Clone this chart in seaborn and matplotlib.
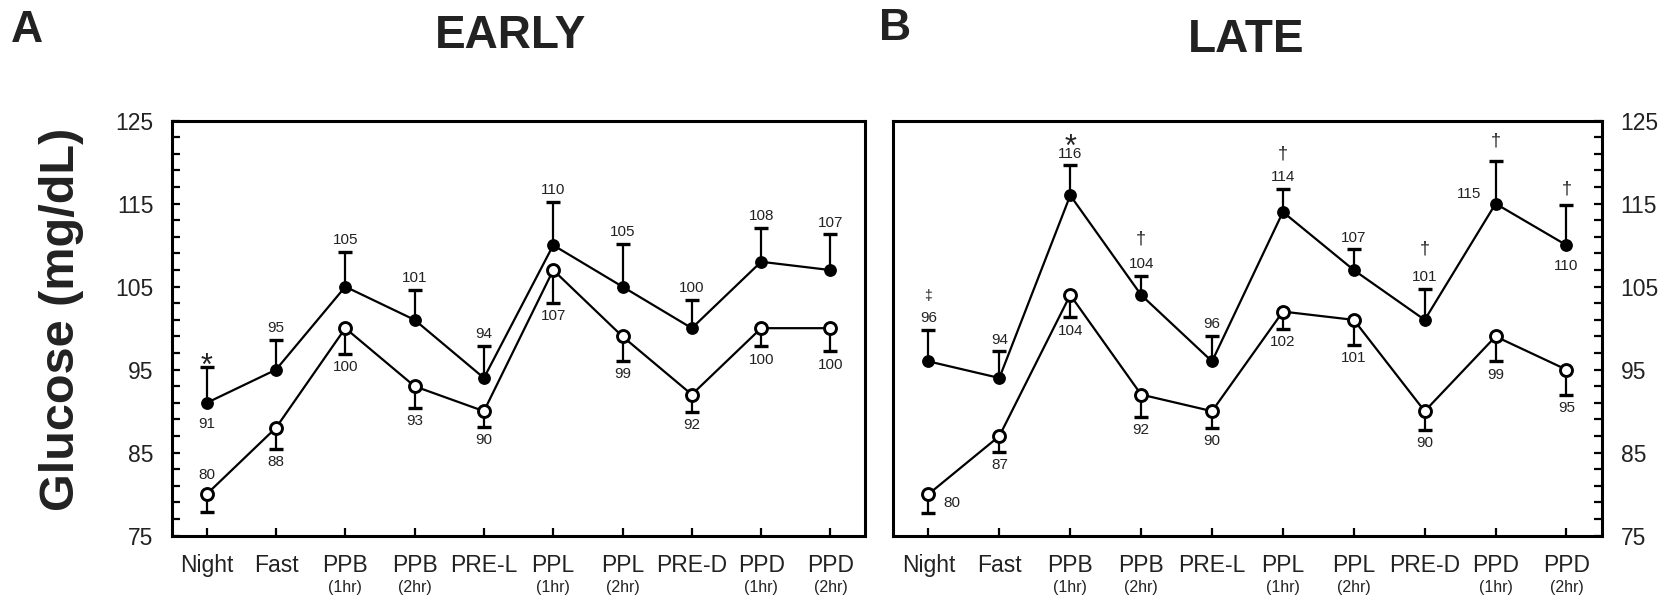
import numpy as np
import pandas as pd
import matplotlib
matplotlib.use("Agg")
import matplotlib.pyplot as plt
import seaborn as sns
from matplotlib.ticker import FixedLocator

# ---------------- data ----------------
categories = ["Night", "Fast", "PPB", "PPB", "PRE-L", "PPL", "PPL", "PRE-D", "PPD", "PPD"]
sublabels = ["", "", "(1hr)", "(2hr)", "", "(1hr)", "(2hr)", "", "(1hr)", "(2hr)"]

early_filled = [91, 95, 105, 101, 94, 110, 105, 100, 108, 107]
early_filled_se = [4.3, 3.6, 4.2, 3.6, 3.9, 5.2, 5.2, 3.4, 4.1, 4.3]
early_open = [80, 88, 100, 93, 90, 107, 99, 92, 100, 100]
early_open_se = [2.2, 2.5, 3.1, 2.6, 1.9, 4.0, 2.9, 2.1, 2.2, 2.8]

late_filled = [96, 94, 116, 104, 96, 114, 107, 101, 115, 110]
late_filled_se = [3.8, 3.2, 3.6, 2.3, 3.1, 2.8, 2.5, 3.7, 5.2, 4.9]
late_open = [80, 87, 104, 92, 90, 102, 101, 90, 99, 95]
late_open_se = [2.3, 1.9, 2.7, 2.7, 2.0, 2.1, 3.0, 2.3, 3.0, 3.0]

early_marks = ["*", "", "", "", "", "", "", "", "", ""]
late_marks = ["\u2021", "", "*", "\u2020", "", "\u2020", "", "\u2020", "\u2020", "\u2020"]

y_major = [75, 85, 95, 105, 115, 125]

# ---------------- layout / style (not data) ----------------
early_filled_pos = ["below"] + ["cap"] * 9
early_open_pos = ["above"] + ["cap"] * 9
late_filled_pos = ["cap"] * 8 + ["left", "below"]
late_open_pos = ["right"] + ["cap"] * 9
early_mark_off = [-5.5, 0, 0, 0, 0, 0, 0, 0, 0, 0]
late_mark_off = [24.5, 0, 7.0, 26.5, 0, 25, 0, 29, 14, 11.5]
mark_size = {"*": 22, "\u2020": 13, "\u2021": 10}
mark_va = {"*": "baseline", "\u2020": "center", "\u2021": "center"}

sns.set_style("ticks")
plt.rcParams["font.family"] = ["Liberation Sans", "DejaVu Sans"]
plt.rcParams["axes.linewidth"] = 2.2
plt.rcParams["axes.edgecolor"] = "black"

fig = plt.figure(figsize=(16.72, 6.01), dpi=100)
axL = fig.add_axes([0.1029, 0.1087, 0.4145, 0.6905])
axR = fig.add_axes([0.5341, 0.1087, 0.4240, 0.6905])


def put_label(ax, x, y, se, val, pos, kind):
    if pos == "cap":
        if kind == "filled":
            xy, off = (x, y + se), (0, 8.5)
        else:
            xy, off = (x, y - se), (0, -9.5)
    elif pos == "below":
        xy, off = (x, y), (0, -15)
    elif pos == "above":
        xy, off = (x, y), (0, 13.7)
    elif pos == "left":
        xy, off = (x, y), (-19, 7)
    else:  # right
        xy, off = (x, y), (16.5, -6.5)
    ax.annotate(str(val), xy=xy, xytext=off, textcoords="offset points",
                ha="center", va="center", fontsize=11, color="#222222")


def draw_panel(ax, filled, filled_se, open_, open_se, fpos, opos, marks, mark_off, right):
    n = len(categories)
    x = np.arange(n)
    filled = np.asarray(filled, float)
    open_ = np.asarray(open_, float)
    fse = np.asarray(filled_se, float)
    ose = np.asarray(open_se, float)

    # error bars (one sided)
    ax.vlines(x, filled, filled + fse, color="black", lw=1.6, zorder=1.5)
    ax.plot(x, filled + fse, linestyle="none", marker="_", markersize=9.5,
            markeredgewidth=2.4, color="black", zorder=1.6)
    ax.vlines(x, open_ - ose, open_, color="black", lw=1.6, zorder=1.5)
    ax.plot(x, open_ - ose, linestyle="none", marker="_", markersize=9.5,
            markeredgewidth=2.4, color="black", zorder=1.6)

    df = pd.DataFrame({"t": np.concatenate([x, x]),
                       "glucose": np.concatenate([filled, open_]),
                       "grp": ["filled"] * n + ["open"] * n})
    sns.lineplot(data=df[df.grp == "filled"], x="t", y="glucose", ax=ax, color="black",
                 lw=1.6, marker="o", markersize=8.2, markerfacecolor="black",
                 markeredgecolor="black", markeredgewidth=1.0, zorder=3, errorbar=None)
    sns.lineplot(data=df[df.grp == "open"], x="t", y="glucose", ax=ax, color="black",
                 lw=1.6, marker="o", markersize=8.6, markerfacecolor="white",
                 markeredgecolor="black", markeredgewidth=2.1, zorder=4, errorbar=None)

    for i in range(n):
        put_label(ax, i, filled[i], fse[i], int(filled[i]), fpos[i], "filled")
        put_label(ax, i, open_[i], ose[i], int(open_[i]), opos[i], "open")
        if marks[i]:
            ax.annotate(marks[i], xy=(i, filled[i] + fse[i]), xytext=(0, mark_off[i]),
                        textcoords="offset points", ha="center", va=mark_va[marks[i]],
                        fontsize=mark_size[marks[i]], color="#222222")

    ax.set_xlim(-0.5, 9.5)
    ax.set_ylim(75, 125)
    ax.set_xticks(x)
    ax.set_xticklabels(categories)
    ax.yaxis.set_major_locator(FixedLocator(y_major))
    ax.yaxis.set_minor_locator(FixedLocator(np.arange(75, 126, 2)))
    ax.set_xlabel("")
    ax.set_ylabel("")
    ax.tick_params(axis="both", which="both", direction="in", length=6, width=1.6,
                   colors="black", labelcolor="#222222")
    ax.tick_params(axis="x", top=False, bottom=True, pad=13.5, labelsize=16.5)
    if right:
        ax.tick_params(axis="y", which="both", left=False, right=True,
                       labelleft=False, labelright=True, pad=13.5, labelsize=16.5)
    else:
        ax.tick_params(axis="y", which="both", left=True, right=False,
                       labelleft=True, labelright=False, pad=13.5, labelsize=16.5)
    for s in ax.spines.values():
        s.set_visible(True)
        s.set_linewidth(2.2)
    for i, sub in enumerate(sublabels):
        if sub:
            ax.annotate(sub, xy=(i, 0), xycoords=("data", "axes fraction"),
                        xytext=(0, -37.6), textcoords="offset points",
                        ha="center", va="center", fontsize=11.5, color="#222222")


draw_panel(axL, early_filled, early_filled_se, early_open, early_open_se,
           early_filled_pos, early_open_pos, early_marks, early_mark_off, right=False)
draw_panel(axR, late_filled, late_filled_se, late_open, late_open_se,
           late_filled_pos, late_open_pos, late_marks, late_mark_off, right=True)

fig.text(511 / 1672, 1 - 48 / 601, "EARLY", ha="center", va="baseline",
         fontsize=33, fontweight="bold", color="#222222")
fig.text(1246 / 1672, 1 - 52 / 601, "LATE", ha="center", va="baseline",
         fontsize=33, fontweight="bold", color="#222222")
fig.text(11 / 1672, 1 - 42 / 601, "A", ha="left", va="baseline",
         fontsize=32, fontweight="bold", color="#222222")
fig.text(879 / 1672, 1 - 40 / 601, "B", ha="left", va="baseline",
         fontsize=32, fontweight="bold", color="#222222")
fig.text(62 / 1672, 1 - 319 / 601, "Glucose (mg/dL)", ha="center", va="center",
         rotation=90, fontsize=35, fontweight="bold", color="#222222")

fig.savefig("out.png", dpi=100, facecolor="white")
